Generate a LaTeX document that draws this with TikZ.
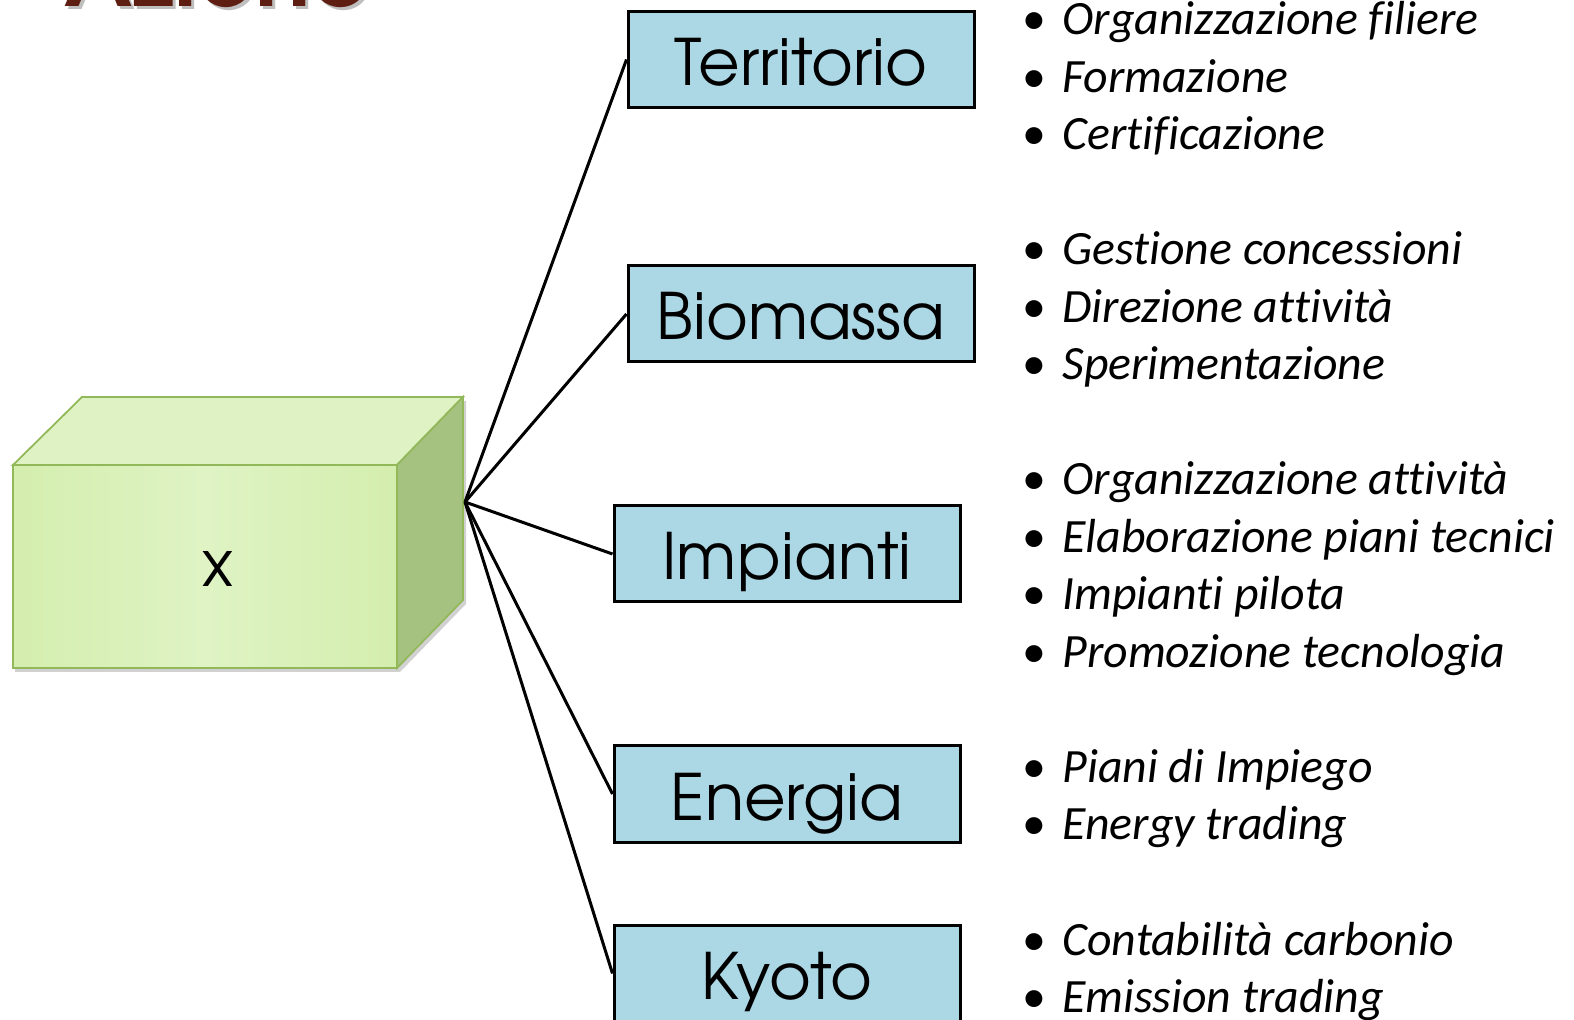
\documentclass[tikz,border=0pt]{standalone}
\usepackage{fontspec}
\setmainfont{Carlito}[Ligatures=NoCommon]
\newfontfamily\gothic{TeX Gyre Adventor}
\usetikzlibrary{positioning}

\definecolor{boxblue}{RGB}{171,216,228}
\definecolor{cubeline}{RGB}{146,184,90}
\definecolor{cubefront}{RGB}{212,238,174}
\definecolor{cubelight}{RGB}{223,243,196}
\definecolor{cubetop}{RGB}{222,242,196}
\definecolor{cubeside}{RGB}{166,194,128}
\definecolor{titlered}{RGB}{94,31,18}

\begin{document}
\begin{tikzpicture}[x=0.5pt,y=-0.5pt,
    area/.style={draw=black,line width=1.5pt,fill=boxblue,
        minimum width=173pt,minimum height=48pt,inner sep=0pt,
        font=\gothic\fontsize{32}{36}\selectfont,text height=26pt,text depth=0pt},
    voce/.style={anchor=base west,inner sep=0pt,
        font=\itshape\fontsize{23.9}{28}\selectfont},
    punto/.style={anchor=base,inner sep=0pt,font=\fontsize{23.9}{28}\selectfont},
    ramo/.style={line width=1.5pt}]
    \useasboundingbox (0,0) rectangle (1574,1020);
    \clip (0,0) rectangle (1574,1020);

    % titolo (tagliato in alto)
    \node[anchor=base west,inner sep=0pt,text=black!25,
        font=\gothic\bfseries\fontsize{46}{50}\selectfont] (ombra) at (67,10) {Azione};
    \node[anchor=base west,inner sep=0pt,text=titlered,
        font=\gothic\bfseries\fontsize{46}{50}\selectfont] (titolo) at (64,7) {Azione};

    % cubo
    \fill[black,opacity=0.18] (15,470) -- (84,401) -- (466,401) -- (466,604) -- (400,672) -- (15,672) -- cycle;
    \shade[left color=cubefront,right color=cubefront,middle color=cubelight,
        draw=cubeline,line width=0.9pt] (13,465) rectangle (397,668);
    \fill[cubetop,draw=cubeline,line width=0.9pt] (13,465) -- (82,397) -- (463,397) -- (397,465) -- cycle;
    \fill[cubeside,draw=cubeline,line width=0.9pt] (397,465) -- (463,397) -- (463,600) -- (397,668) -- cycle;
    \node[anchor=base,inner sep=0pt,font=\gothic\fontsize{32}{36}\selectfont] (x) at (218,587) {x};
    \coordinate (hub) at (465,502);

    % aree
    \node[area] (ter) at (801,59.5) {Territorio};
    \node[area] (bio) at (801,314) {Biomassa};
    \node[area] (imp) at (787,554) {Impianti};
    \node[area] (ene) at (787,794) {Energia};
    \node[area] (kyo) at (787,973.5) {Kyoto};

    \foreach \b in {ter,bio,imp,ene,kyo}
        \draw[ramo] (hub) -- (\b.west);

    % azioni
    \foreach \k/\voce in {0/Organizzazione filiere,1/Formazione,2/Certificazione,
            4/Gestione concessioni,5/Direzione attività,6/Sperimentazione,
            8/Organizzazione attività,9/Elaborazione piani tecnici,10/Impianti pilota,11/Promozione tecnologia,
            13/Piani di Impiego,14/Energy trading,
            16/Contabilità carbonio,17/Emission trading}{
        \node[punto] (p-\k) at (1034,35+57.5*\k) {•};
        \node[voce] (v-\k) at (1062,35+57.5*\k) {\voce};
    }
\end{tikzpicture}
\end{document}
